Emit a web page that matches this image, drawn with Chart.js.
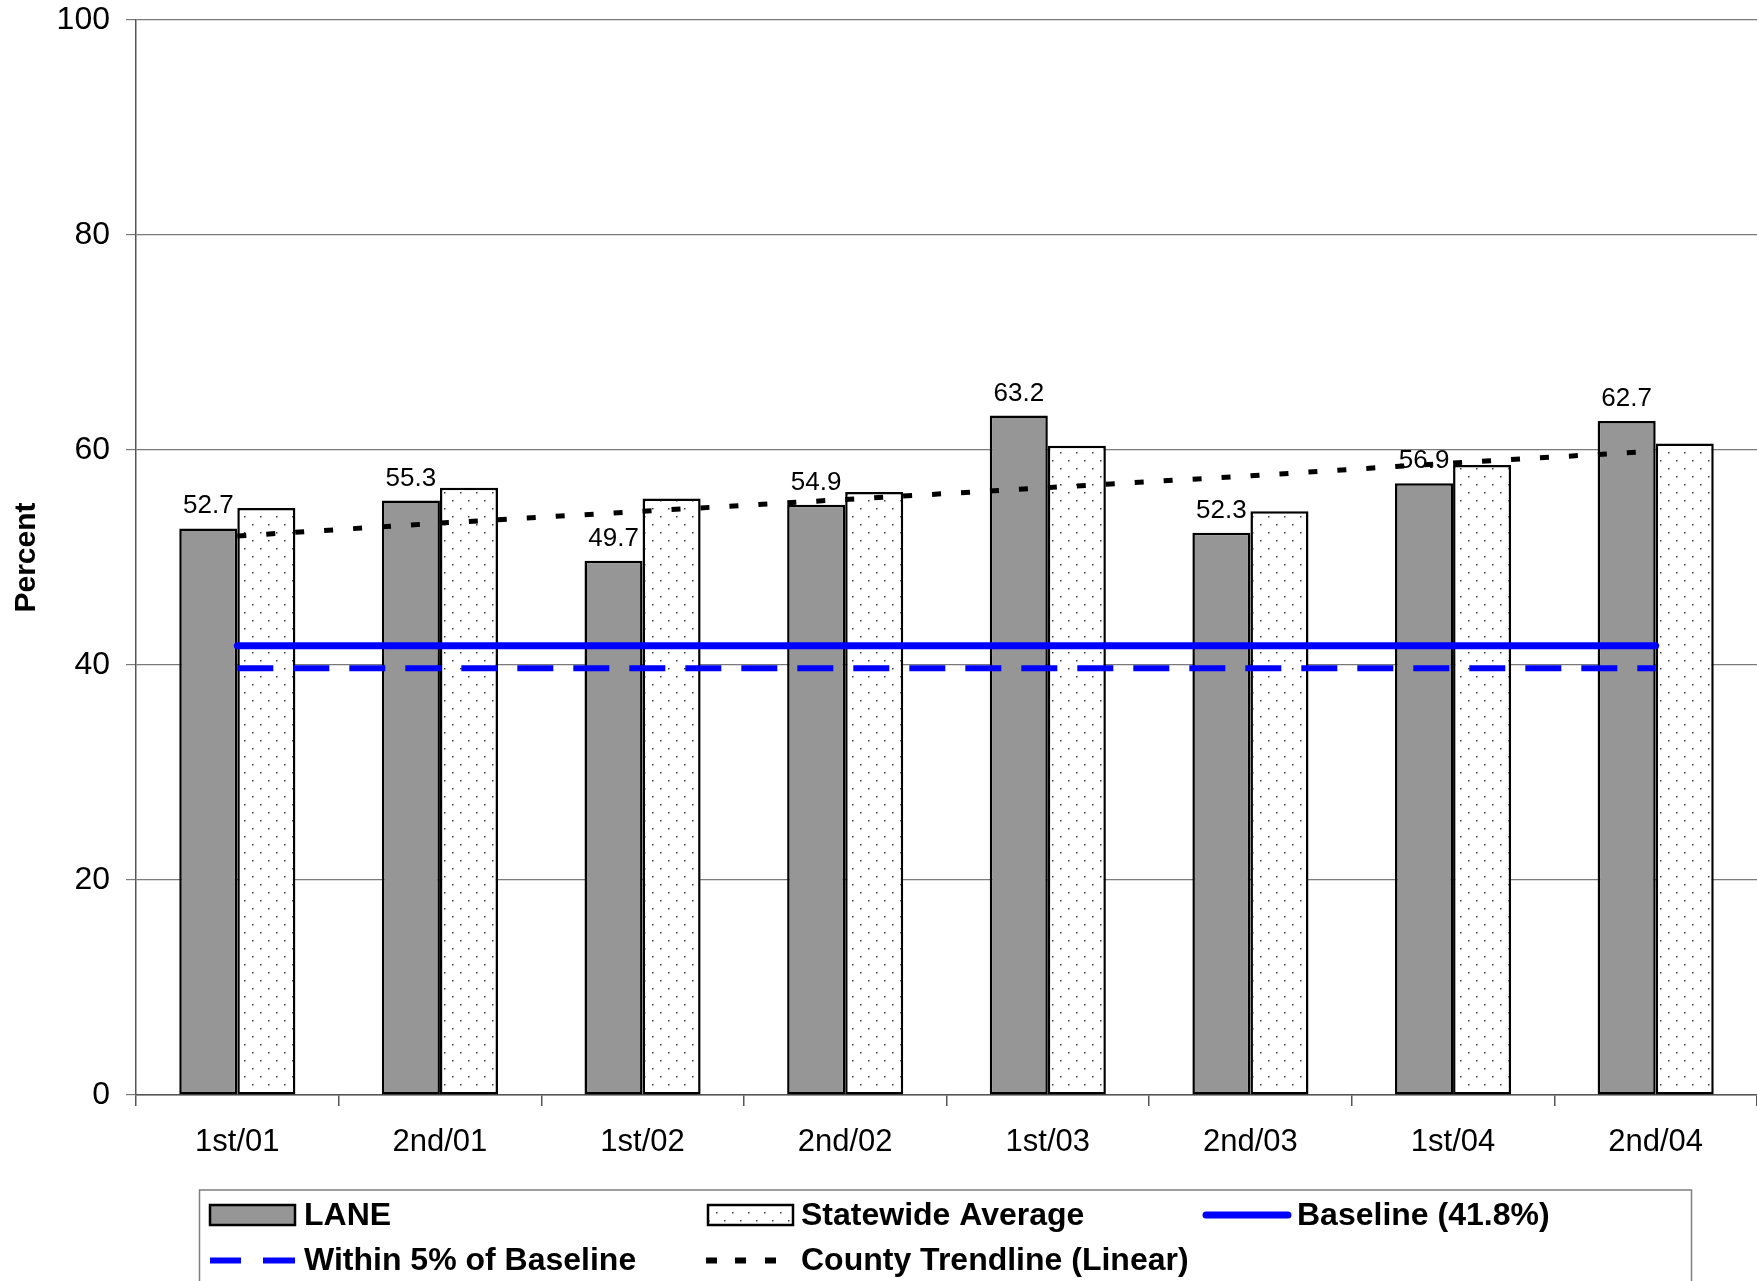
<!DOCTYPE html>
<html>
<head>
<meta charset="utf-8">
<script src="https://cdn.jsdelivr.net/npm/chart.js@4.4.0/dist/chart.umd.min.js"></script>
<style>
  html, body { margin: 0; padding: 0; background: #fff; }
  #wrap { width: 1757px; height: 1281px; }
</style>
</head>
<body>
<div id="wrap"><canvas id="chart" width="1757" height="1281"></canvas></div>
<script>
// values
const periods = ["1st/01", "2nd/01", "1st/02", "2nd/02", "1st/03", "2nd/03", "1st/04", "2nd/04"];
const laneValues = [52.7, 55.3, 49.7, 54.9, 63.2, 52.3, 56.9, 62.7];
const statewideValues = [54.6, 56.5, 55.5, 56.1, 60.4, 54.3, 58.6, 60.6];
const baselineValues = [41.8, 41.8, 41.8, 41.8, 41.8, 41.8, 41.8, 41.8];
const withinValues = [39.7, 39.7, 39.7, 39.7, 39.7, 39.7, 39.7, 39.7];
const trendValues = [52.0, 53.2, 54.3, 55.4, 56.5, 57.6, 58.8, 59.9];
const yTicks = [0, 20, 40, 60, 80, 100];

const FONT = "'Liberation Sans', Arial, sans-serif";
const canvas = document.getElementById("chart");
const ctx = canvas.getContext("2d");

// dotted fill like the Excel "dotted" pattern
function dotPattern() {
    const tile = document.createElement("canvas");
    tile.width = 16;
    tile.height = 16;
    const g = tile.getContext("2d");
    g.fillStyle = "#fff";
    g.fillRect(0, 0, 16, 16);
    g.fillStyle = "#3a3a3a";
    g.fillRect(4, 4, 1.5, 1.5);
    g.fillRect(12, 12, 1.5, 1.5);
    return ctx.createPattern(tile, "repeat");
}
const dots = dotPattern();

const valueLabels = {
    id: "valueLabels",
    afterDatasetDraw(chart, args) {
        if (args.index !== 0) return;
        const c = chart.ctx;
        c.save();
        c.font = "26px " + FONT;
        c.fillStyle = "#000";
        c.textAlign = "center";
        c.textBaseline = "alphabetic";
        args.meta.data.forEach((bar, i) => {
            c.fillText(laneValues[i].toFixed(1), bar.x, bar.y - 15);
        });
        c.restore();
    }
};

const boxLegend = {
    id: "boxLegend",
    afterDraw(chart) {
        const c = chart.ctx;
        const top = chart.chartArea.bottom + 95;
        const row1 = top + 25;
        const row2 = top + 70.5;
        c.save();
        c.strokeStyle = "#7f7f7f";
        c.lineWidth = 1.5;
        c.strokeRect(199.5, top, 1492, 200);

        // LANE
        c.fillStyle = "#969696";
        c.fillRect(210, row1 - 10, 85, 20);
        c.strokeStyle = "#000";
        c.lineWidth = 2.5;
        c.strokeRect(210, row1 - 10, 85, 20);
        // Statewide
        c.fillStyle = dots;
        c.fillRect(708, row1 - 10, 85, 20);
        c.strokeRect(708, row1 - 10, 85, 20);
        // Baseline
        c.strokeStyle = "#0000ff";
        c.lineWidth = 7;
        c.lineCap = "round";
        c.beginPath();
        c.moveTo(1206, row1);
        c.lineTo(1288, row1);
        c.stroke();
        // Within 5%
        c.lineCap = "butt";
        c.lineWidth = 6;
        c.beginPath();
        c.moveTo(210, row2); c.lineTo(241, row2);
        c.moveTo(263, row2); c.lineTo(295, row2);
        c.stroke();
        // Trendline
        c.fillStyle = "#000";
        [706, 735, 765].forEach(x => c.fillRect(x, row2 - 3, 11, 6));

        c.fillStyle = "#000";
        c.font = "bold 32px " + FONT;
        c.textAlign = "left";
        c.textBaseline = "middle";
        c.fillText("LANE", 304, row1 + 1);
        c.fillText("Statewide Average", 801, row1 + 1);
        c.fillText("Baseline (41.8%)", 1297, row1 + 1);
        c.fillText("Within 5% of Baseline", 304, row2 + 1);
        c.fillText("County Trendline (Linear)", 801, row2 + 1);
        c.restore();
    }
};

new Chart(ctx, {
    type: "bar",
    data: {
        labels: periods,
        datasets: [
            {
                label: "LANE",
                data: laneValues,
                backgroundColor: "#969696",
                borderColor: "#000",
                borderWidth: 2.5,
                borderSkipped: false,
                order: 2
            },
            {
                label: "Statewide Average",
                data: statewideValues,
                backgroundColor: dots,
                borderColor: "#000",
                borderWidth: 2.5,
                borderSkipped: false,
                order: 2
            },
            {
                type: "line",
                label: "Baseline (41.8%)",
                data: baselineValues,
                borderColor: "#0000ff",
                borderWidth: 7,
                borderCapStyle: "round",
                pointRadius: 0,
                fill: false,
                order: 1
            },
            {
                type: "line",
                label: "Within 5% of Baseline",
                data: withinValues,
                borderColor: "#0000ff",
                borderWidth: 6,
                borderDash: [36, 20],
                pointRadius: 0,
                fill: false,
                order: 1
            },
            {
                type: "line",
                label: "County Trendline (Linear)",
                data: trendValues,
                borderColor: "#000",
                borderWidth: 5,
                borderDash: [9, 20],
                pointRadius: 0,
                fill: false,
                order: 1
            }
        ]
    },
    options: {
        responsive: false,
        devicePixelRatio: 1,
        animation: false,
        layout: {
            padding: { top: 20, right: 0, bottom: 106, left: 0 }
        },
        datasets: {
            bar: { categoryPercentage: 0.573, barPercentage: 1 }
        },
        plugins: {
            legend: { display: false },
            tooltip: { enabled: false }
        },
        scales: {
            x: {
                offset: true,
                grid: { offset: true, drawOnChartArea: false, drawTicks: true, tickLength: 11, color: "#555", lineWidth: 1.5 },
                border: { color: "#555", width: 1.5 },
                ticks: { color: "#000", font: { size: 31, family: FONT }, padding: 18, maxRotation: 0 },
                afterFit(scale) { scale.height = 80; }
            },
            y: {
                min: 0,
                max: 100,
                afterBuildTicks(scale) { scale.ticks = yTicks.map(v => ({ value: v })); },
                ticks: { color: "#000", font: { size: 32, family: FONT }, padding: 16 },
                grid: { color: "#7a7a7a", lineWidth: 1.2, tickLength: 10 },
                border: { color: "#555", width: 1.5 },
                title: {
                    display: true,
                    text: "Percent",
                    color: "#000",
                    font: { size: 30, weight: "bold", family: FONT },
                    padding: { top: 9, bottom: 0 }
                },
                afterFit(scale) {
                    scale.width = 136;
                    scale.paddingTop = 0;
                    scale.paddingBottom = 0;
                }
            }
        }
    },
    plugins: [valueLabels, boxLegend]
});
</script>
</body>
</html>
